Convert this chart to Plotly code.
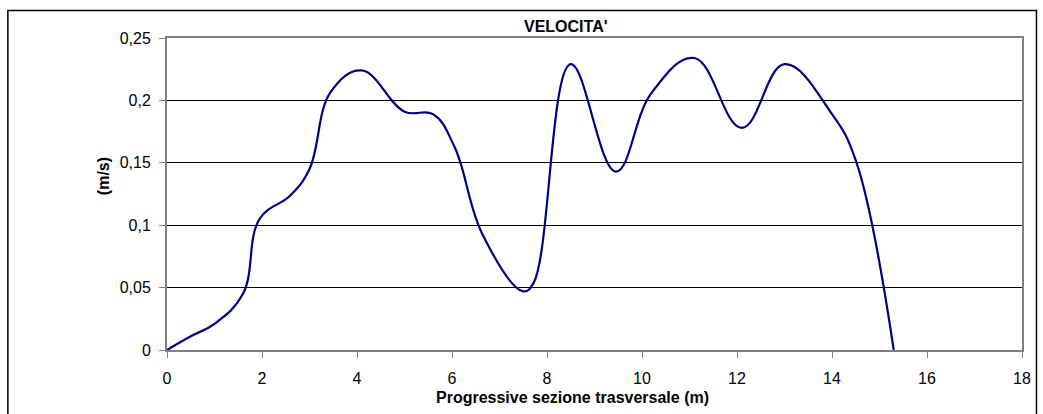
import plotly.graph_objects as go

# Data
progressive_m = [0, 0.5, 1.0, 1.6, 1.95, 2.6, 3.0, 3.45, 4.1, 5.0, 5.6, 6.05,
                 6.65, 7.5, 7.72, 8.5, 9.45, 10.2, 11.1, 12.1, 13.0, 14.0, 14.5, 15.3]
velocity_ms = [0, 0.011, 0.021, 0.045, 0.105, 0.124, 0.145, 0.207, 0.224,
               0.191, 0.189, 0.163, 0.092, 0.047, 0.054, 0.229, 0.143, 0.206, 0.234,
               0.178, 0.229, 0.189, 0.152, 0]

y_tickvals = [0, 0.05, 0.1, 0.15, 0.2, 0.25]
y_ticktext = ["0", "0,05", "0,1", "0,15", "0,2", "0,25"]
x_tickvals = [0, 2, 4, 6, 8, 10, 12, 14, 16, 18]
x_ticktext = ["0", "2", "4", "6", "8", "10", "12", "14", "16", "18"]

W, H = 1043, 414
ML, MR, MT, MB = 167, 19, 38, 64
PW, PH = W - ML - MR, H - MT - MB

def px_x(p):
    return (p - ML) / PW

def px_y(p):
    return (H - MB - p) / PH

FONT = "Liberation Sans, Arial, sans-serif"

fig = go.Figure()
fig.add_trace(go.Scatter(
    x=progressive_m, y=velocity_ms, mode="lines",
    line=dict(color="#000080", width=2.2, shape="spline", smoothing=1.15),
    hoverinfo="x+y", showlegend=False,
))

axis_common = dict(
    showline=True, linecolor="#808080", linewidth=2, mirror=True,
    ticks="outside", ticklen=6, tickcolor="#808080", tickwidth=1,
    tickfont=dict(family=FONT, size=16, color="#000000"),
    zeroline=False,
)

fig.update_layout(
    width=W, height=H,
    margin=dict(l=ML, r=MR, t=MT, b=MB),
    paper_bgcolor="#FFFFFF", plot_bgcolor="#FFFFFF",
    font=dict(family=FONT, color="#000000"),
    xaxis=dict(range=[0, 18], tickvals=x_tickvals, ticktext=x_ticktext,
               showgrid=False, ticklabelstandoff=7, **axis_common),
    yaxis=dict(range=[0, 0.25], tickvals=y_tickvals, ticktext=y_ticktext,
               showgrid=True, gridcolor="#000000", gridwidth=1,
               ticklabelstandoff=5, **axis_common),
    annotations=[
        dict(text="<b>VELOCITA'</b>", xref="paper", yref="paper",
             x=px_x(567), y=px_y(27), xanchor="center", yanchor="middle",
             showarrow=False, font=dict(family=FONT, size=16, color="#000000")),
        dict(text="<b>Progressive sezione trasversale (m)</b>", xref="paper", yref="paper",
             x=px_x(573), y=px_y(398), xanchor="center", yanchor="middle",
             showarrow=False, font=dict(family=FONT, size=16, color="#000000")),
        dict(text="<b>(m/s)</b>", xref="paper", yref="paper",
             x=px_x(103), y=px_y(176), xanchor="center", yanchor="middle",
             textangle=-90, showarrow=False,
             font=dict(family=FONT, size=16, color="#000000")),
    ],
    shapes=[
        dict(type="rect", xref="paper", yref="paper",
             x0=px_x(7.5), x1=px_x(1038.5), y0=px_y(430), y1=px_y(10.5),
             line=dict(color="#000000", width=1.5), fillcolor="rgba(0,0,0,0)",
             layer="below"),
    ],
)

fig.write_html("out.html")
